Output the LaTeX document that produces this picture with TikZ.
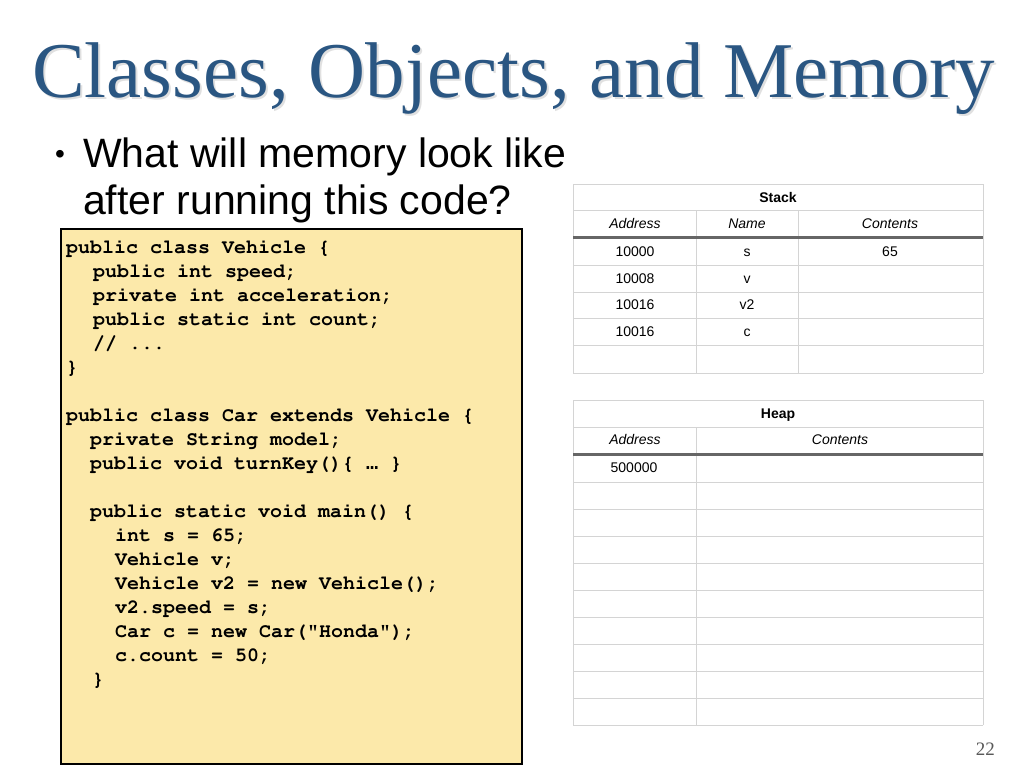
\documentclass[tikz,border=0pt]{standalone}
\usepackage[T1]{fontenc}
\usepackage{fontspec}
\setmainfont{Liberation Serif}
\setsansfont{Liberation Sans}
\newfontfamily\monofont{Liberation Mono}
\newcommand{\codefont}{\fontencoding{T1}\fontfamily{pcr}\fontseries{b}\selectfont}
\usetikzlibrary{positioning}
\definecolor{titleblue}{RGB}{42,86,130}
\definecolor{codeyellow}{RGB}{252,233,170}
\definecolor{gridgray}{RGB}{212,212,212}
\definecolor{rulegray}{RGB}{102,102,102}

\begin{document}
\begin{tikzpicture}[x=1pt, y=-1pt,
  titletext/.style={anchor=base west, inner sep=0pt, font=\fontsize{79}{90}\selectfont},
  bullettext/.style={anchor=base west, inner sep=0pt, font=\sffamily\fontsize{41}{47}\selectfont},
  codeline/.style={anchor=base west, inner sep=0pt, font=\fontsize{20}{24}\codefont},
  cell/.style={anchor=base, inner sep=0pt, font=\sffamily\fontsize{14}{16}\selectfont},
  headcell/.style={cell, font=\sffamily\itshape\fontsize{14}{16}\selectfont},
  tabletitle/.style={cell, font=\sffamily\bfseries\fontsize{14}{16}\selectfont},
  grid/.style={draw=gridgray, line width=1pt},
  thickrule/.style={draw=rulegray, line width=3pt}]
\useasboundingbox[fill=white] (0,0) rectangle (1024,768);

% title with its shadow
\node[titletext, text=black, opacity=0.12] at (34,99.5) {Classes, Objects, and Memory};
\node[titletext, text=titleblue] (title) at (32,97) {Classes, Objects, and Memory};

% bullet
\node[inner sep=0pt, font=\sffamily\fontsize{28}{28}\selectfont] (dot) at (60,157) {\textbullet};
\node[bullettext] (q1) at (83,167) {What will memory look like};
\node[bullettext] (q2) at (83,214) {after running this code?};

% code box
\draw[line width=2pt, fill=codeyellow] (61,229) rectangle (522,764);
\node[codeline] (c0) at (66,253) {public class Vehicle \{};
\node[codeline] (c1) at (93,277) {public int speed;};
\node[codeline] (c2) at (93,301) {private int acceleration;};
\node[codeline] (c3) at (93,325) {public static int count;};
\node[codeline] (c4) at (93,349) {// ...};
\node[codeline] (c5) at (66,373) {\}};
\node[codeline] (c7) at (66,421) {public class Car extends Vehicle \{};
\node[codeline] (c8) at (90,445) {private String model;};
\node[codeline] (c9) at (90,469) {public void turnKey()\{ {\monofont\bfseries …} \}};
\node[codeline] (c11) at (90,517) {public static void main() \{};
\node[codeline] (c12) at (115,541) {int s = 65;};
\node[codeline] (c13) at (115,565) {Vehicle v;};
\node[codeline] (c14) at (115,589) {Vehicle v2 = new Vehicle();};
\node[codeline] (c15) at (115,613) {v2.speed = s;};
\node[codeline] (c16) at (115,637) {Car c = new Car("Honda");};
\node[codeline] (c17) at (115,661) {c.count = 50;};
\node[codeline] (c18) at (92,685) {\}};

% stack table
\foreach \y in {184,210,265,292,318,345,373}
  \draw[grid] (573,\y) -- (983,\y);
\draw[grid] (573,184) -- (573,373);
\draw[grid] (983,184) -- (983,373);
\draw[grid] (696,210) -- (696,373);
\draw[grid] (798,210) -- (798,373);
\draw[thickrule] (573,237.5) -- (983,237.5);
\node[tabletitle] (stack) at (778,202) {Stack};
\node[headcell] (sAddr) at (635,228) {Address};
\node[headcell] (sName) at (747,228) {Name};
\node[headcell] (sCont) at (890,228) {Contents};
\foreach \a/\n/\c [count=\i] in {10000/s/65, 10008/v/, 10016/v2/, 10016/c/} {
  \pgfmathsetmacro{\yy}{229.5+26.8*\i}
  \node[cell] (sa\i) at (635,\yy) {\a};
  \node[cell] (sn\i) at (747,\yy) {\n};
  \node[cell] (sc\i) at (890,\yy) {\c};
}

% heap table
\foreach \y in {400,427,482,509,536,563,590,617,644,671,698,725}
  \draw[grid] (573,\y) -- (983,\y);
\draw[grid] (573,400) -- (573,725);
\draw[grid] (983,400) -- (983,725);
\draw[grid] (696,427) -- (696,725);
\draw[thickrule] (573,454) -- (983,454);
\node[tabletitle] (heap) at (778,418) {Heap};
\node[headcell] (hAddr) at (635,444) {Address};
\node[headcell] (hCont) at (840,444) {Contents};
\node[cell] (ha1) at (634,472) {500000};

% page number
\node[anchor=base east, inner sep=0pt, text=black!65, font=\fontsize{19}{19}\selectfont] (page) at (995,755) {22};
\end{tikzpicture}
\end{document}
